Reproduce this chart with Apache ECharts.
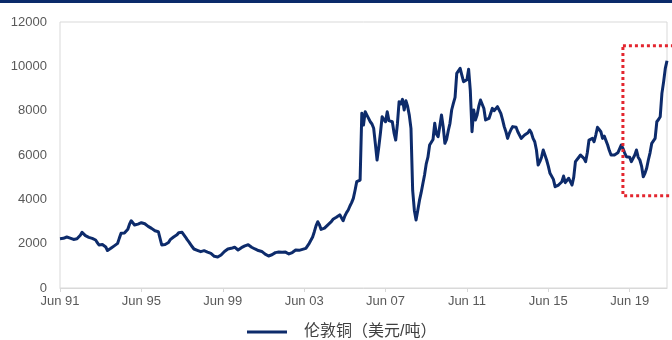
<!DOCTYPE html>
<html>
<head>
<meta charset="utf-8">
<script src="https://cdn.jsdelivr.net/npm/echarts@6/dist/echarts.min.js"></script>
<style>
  html, body { margin: 0; padding: 0; background: #fff; }
  #chart { width: 672px; height: 340px; }
</style>
</head>
<body>
<div id="chart"></div>
<script>
// LME copper, monthly, USD per tonne (Jun 1991 - Apr 2021)
const y1991 = [2220, 2260, 2240, 2280, 2300, 2320, 2250]; // Jun-Dec
const y1992 = [2200, 2190, 2230, 2220, 2240, 2380, 2510, 2430, 2360, 2300, 2285, 2270];
const y1993 = [2240, 2200, 2165, 2050, 1940, 1920, 1960, 1985, 1850, 1690, 1720, 1790];
const y1994 = [1865, 1900, 1960, 2015, 2250, 2465, 2420, 2480, 2540, 2650, 2880, 3035];
const y1995 = [2980, 2840, 2900, 2880, 2930, 2945, 2960, 2900, 2840, 2780, 2740, 2690];
const y1996 = [2640, 2580, 2560, 2540, 2500, 1940, 1990, 1960, 1970, 2050, 2180, 2240];
const y1997 = [2300, 2360, 2400, 2495, 2480, 2510, 2420, 2300, 2180, 2080, 2015, 1860];
const y1998 = [1760, 1715, 1700, 1680, 1640, 1660, 1685, 1640, 1620, 1600, 1565, 1480];
const y1999 = [1430, 1385, 1400, 1440, 1490, 1560, 1650, 1715, 1760, 1740, 1790, 1865];
const y2000 = [1840, 1780, 1715, 1780, 1820, 1880, 1900, 1985, 1950, 1900, 1840, 1790];
const y2001 = [1760, 1730, 1690, 1640, 1650, 1600, 1530, 1480, 1445, 1420, 1500, 1560];
const y2002 = [1595, 1580, 1620, 1600, 1610, 1640, 1620, 1540, 1535, 1560, 1600, 1620];
const y2003 = [1715, 1680, 1700, 1660, 1745, 1760, 1790, 1850, 2015, 2090, 2300, 2540];
const y2004 = [2800, 2990, 2850, 2645, 2680, 2700, 2765, 2850, 2920, 2990, 3100, 3150];
const y2005 = [3190, 3250, 3300, 3215, 3035, 3250, 3400, 3520, 3700, 3850, 4045, 4400];
const y2006 = [4795, 4830, 4870, 7880, 7355, 7955, 7800, 7650, 7500, 7400, 7205, 6500];
const y2007 = [5775, 6350, 7000, 7730, 7600, 7500, 7955, 7550, 7610, 7500, 7000, 6675];
const y2008 = [7400, 8405, 8300, 8510, 8030, 8450, 8200, 7800, 7200, 4400, 3500, 3070];
const y2009 = [3500, 3950, 4300, 4700, 5100, 5600, 5900, 6450, 6375, 6700, 7430, 6950];
const y2010 = [6825, 7300, 7805, 7280, 6525, 6700, 7100, 7430, 8030, 8330, 8600, 9685];
const y2011 = [9600, 9910, 9600, 9305, 9235, 9400, 9865, 8900, 7050, 8030, 7580, 7805];
const y2012 = [8200, 8480, 8405, 8100, 7580, 7550, 7650, 7730, 8105, 8000, 7955, 8180];
const y2013 = [8100, 7880, 7600, 7280, 7050, 6750, 6975, 7150, 7280, 7200, 7250, 7050];
const y2014 = [7050, 6750, 6675, 6900, 6950, 7000, 7125, 7000, 6750, 6600, 6225, 5550];
const y2015 = [5700, 5900, 6225, 6000, 5775, 5500, 5175, 5095, 4900, 4570, 4600, 4645];
const y2016 = [4700, 4795, 5050, 4750, 4800, 4950, 4800, 4645, 5000, 5700, 5625, 5900];
const y2017 = [6000, 5950, 5850, 5700, 6100, 6675, 6700, 6750, 6600, 6900, 7250, 7150];
const y2018 = [7050, 6750, 6850, 6800, 6450, 6200, 6000, 6075, 6000, 5955, 6100, 6150];
const y2019 = [6450, 6300, 6100, 5925, 5955, 5900, 5700, 5850, 6000, 6225, 5900, 5775];
const y2020 = [5500, 5020, 5175, 5400, 5775, 6100, 6525, 6600, 6750, 7500, 7600, 7730];
const y2021 = [8780, 9300, 9910, 10250]; // Jan-Apr

const copper = [].concat(y1991, y1992, y1993, y1994, y1995, y1996, y1997, y1998,
  y1999, y2000, y2001, y2002, y2003, y2004, y2005, y2006, y2007, y2008, y2009,
  y2010, y2011, y2012, y2013, y2014, y2015, y2016, y2017, y2018, y2019, y2020, y2021);

const seriesName = '伦敦铜（美元/吨）';
const monthNames = ['Jan', 'Feb', 'Mar', 'Apr', 'May', 'Jun', 'Jul', 'Aug', 'Sep', 'Oct', 'Nov', 'Dec'];
const yTicks = { min: 0, max: 12000, interval: 2000 };
// highlighted recent-rally window: from Feb 19, spanning this price band
const boxStart = 'Feb 19';
const boxBand = [4160, 10930];

// month categories "Jun 91", "Jul 91", ...
const categories = copper.map((_, i) => {
  const t = 5 + i;                       // months after Jan 1991
  const yr = (1991 + Math.floor(t / 12)) % 100;
  return monthNames[t % 12] + ' ' + String(yr).padStart(2, '0');
});

const chart = echarts.init(document.getElementById('chart'), null, { renderer: 'canvas' });
const labelFont = "'Liberation Sans', Arial, sans-serif";

chart.setOption({
  animation: false,
  grid: {
    left: 60, right: 5, top: 22, bottom: 52,
    show: true, borderColor: '#d9d9d9', borderWidth: 1
  },
  legend: {
    data: [seriesName],
    left: 242,
    top: 319,
    icon: 'rect',
    itemWidth: 40,
    itemHeight: 3,
    itemGap: 10,
    textStyle: {
      fontFamily: "'Liberation Sans', 'Noto Sans CJK SC', sans-serif",
      fontSize: 16,
      color: '#404040',
      padding: [0, 0, 0, 12]
    }
  },
  xAxis: {
    type: 'category',
    data: categories,
    boundaryGap: false,
    axisLine: { show: true, lineStyle: { color: '#d9d9d9', width: 1 } },
    axisTick: {
      show: true, length: 4, lineStyle: { color: '#d9d9d9' },
      interval: (idx) => idx % 48 === 0
    },
    axisLabel: {
      interval: (idx) => idx % 48 === 0,
      margin: 7,
      color: '#595959',
      fontSize: 13,
      fontFamily: labelFont
    },
    splitLine: { show: false }
  },
  yAxis: {
    type: 'value',
    min: yTicks.min, max: yTicks.max, interval: yTicks.interval,
    axisLine: { show: false },
    axisTick: { show: false },
    splitLine: { show: false },
    axisLabel: {
      margin: 13, color: '#595959', fontSize: 13, fontFamily: labelFont,
      formatter: (v) => String(v)
    }
  },
  series: [{
    name: seriesName,
    type: 'line',
    data: copper,
    showSymbol: false,
    symbol: 'none',
    color: '#0d2b6b',
    lineStyle: { color: '#0d2b6b', width: 3, join: 'round' }
  }]
});

// header rule and the dotted highlight box, placed through the axes
const topLeft = chart.convertToPixel({ xAxisIndex: 0, yAxisIndex: 0 }, [boxStart, boxBand[1]]);
const botLeft = chart.convertToPixel({ xAxisIndex: 0, yAxisIndex: 0 }, [boxStart, boxBand[0]]);

chart.setOption({
  graphic: [
    {
      type: 'rect',
      shape: { x: 0, y: 0, width: 672, height: 3 },
      style: { fill: '#0b2a6a' },
      silent: true
    },
    {
      type: 'rect',
      shape: {
        x: topLeft[0], y: topLeft[1],
        width: 700 - topLeft[0], height: botLeft[1] - topLeft[1]
      },
      style: { fill: 'none', stroke: '#e3262f', lineWidth: 3, lineDash: [3, 3] },
      silent: true,
      z: 10
    }
  ]
});
</script>
</body>
</html>
